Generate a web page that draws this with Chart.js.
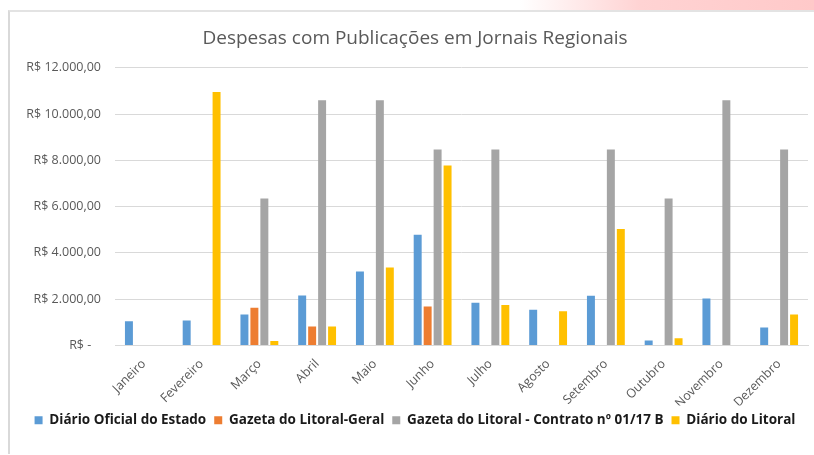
<!DOCTYPE html>
<html>
<head>
<meta charset="utf-8">
<script src="https://cdn.jsdelivr.net/npm/chart.js@4.4.1/dist/chart.umd.min.js"></script>
<style>
  html, body { margin: 0; padding: 0; background: #fff; }
  #wrap { position: relative; width: 814px; height: 455px; overflow: hidden; }
  #faixa { position: absolute; left: 0; top: 0; width: 814px; height: 10px;
    background: linear-gradient(to right, rgba(255,255,255,0) 0px, rgba(255,255,255,0) 520px, #ffd3d3 640px, #ffc9c9 814px); }
  #painel { position: absolute; left: 8px; top: 10px; width: 806px; height: 442px;
    border-left: 2px solid #d9d9d9; border-top: 2px solid #e3e3e3; background: #fff; }
  canvas { position: absolute; left: 0; top: 0; }
</style>
</head>
<body>
<div id="wrap">
  <div id="faixa"></div>
  <div id="painel"></div>
  <canvas id="grafico" width="814" height="455"></canvas>
</div>
<script>
// Dados
const meses = ['Janeiro', 'Fevereiro', 'Março', 'Abril', 'Maio', 'Junho',
  'Julho', 'Agosto', 'Setembro', 'Outubro', 'Novembro', 'Dezembro'];

const diarioOficial = [1050, 1080, 1340, 2160, 3200, 4790, 1850, 1545, 2150, 215, 2035, 780];
const gazetaGeral = [0, 0, 1630, 820, 0, 1690, 0, 0, 0, 0, 0, 0];
const gazetaContrato = [0, 0, 6350, 10600, 10600, 8470, 8470, 0, 8470, 6350, 10600, 8470];
const diarioLitoral = [0, 10950, 190, 820, 3375, 7775, 1745, 1485, 5030, 315, 0, 1340];

const yTicks = [0, 2000, 4000, 6000, 8000, 10000, 12000];

const FONTE = "'Open Sans', 'Liberation Sans', sans-serif";

function formatarReais(v) {
  // formato contábil do Excel: zero vira traço
  if (v === 0) return 'R$ -   ';
  const inteiro = Math.round(v).toString().replace(/\B(?=(\d{3})+(?!\d))/g, '.');
  return 'R$ ' + inteiro + ',00';
}

const ctx = document.getElementById('grafico');

new Chart(ctx, {
  type: 'bar',
  data: {
    labels: meses,
    datasets: [
      { label: 'Diário Oficial do Estado', data: diarioOficial, backgroundColor: '#5B9BD5' },
      { label: 'Gazeta do Litoral-Geral', data: gazetaGeral, backgroundColor: '#ED7D31' },
      { label: 'Gazeta do Litoral - Contrato nº 01/17 B', data: gazetaContrato, backgroundColor: '#A5A5A5' },
      { label: 'Diário do Litoral', data: diarioLitoral, backgroundColor: '#FFC000' }
    ]
  },
  options: {
    responsive: false,
    animation: false,
    datasets: {
      bar: { categoryPercentage: 0.69, barPercentage: 0.8 }
    },
    layout: { padding: { left: 22, right: 6, top: 0, bottom: 18 } },
    plugins: {
      title: {
        display: true,
        text: 'Despesas com Publicações em Jornais Regionais',
        color: '#595959',
        font: { family: FONTE, size: 19, weight: 'normal' },
        padding: { top: 27, bottom: 18 }
      },
      legend: {
        position: 'bottom',
        labels: {
          color: '#1a1a1a',
          font: { family: FONTE, size: 13.5, weight: 'bold' },
          boxWidth: 8,
          boxHeight: 8,
          padding: 8
        }
      },
      tooltip: { enabled: false }
    },
    scales: {
      x: {
        grid: { display: false },
        border: { color: '#d9d9d9' },
        ticks: {
          color: '#595959',
          font: { family: FONTE, size: 12.5 },
          minRotation: 45,
          maxRotation: 45,
          autoSkip: false
        },
        afterFit: (scale) => { scale.height = 60; }
      },
      y: {
        min: 0,
        max: 12000,
        afterBuildTicks: (scale) => { scale.ticks = yTicks.map(v => ({ value: v })); },
        grid: { color: '#d9d9d9', drawTicks: false },
        border: { display: false },
        ticks: {
          color: '#595959',
          font: { family: FONTE, size: 12.5 },
          padding: 14,
          callback: (v) => formatarReais(v)
        },
        afterFit: (scale) => { scale.width = 93; }
      }
    }
  }
});
</script>
</body>
</html>
